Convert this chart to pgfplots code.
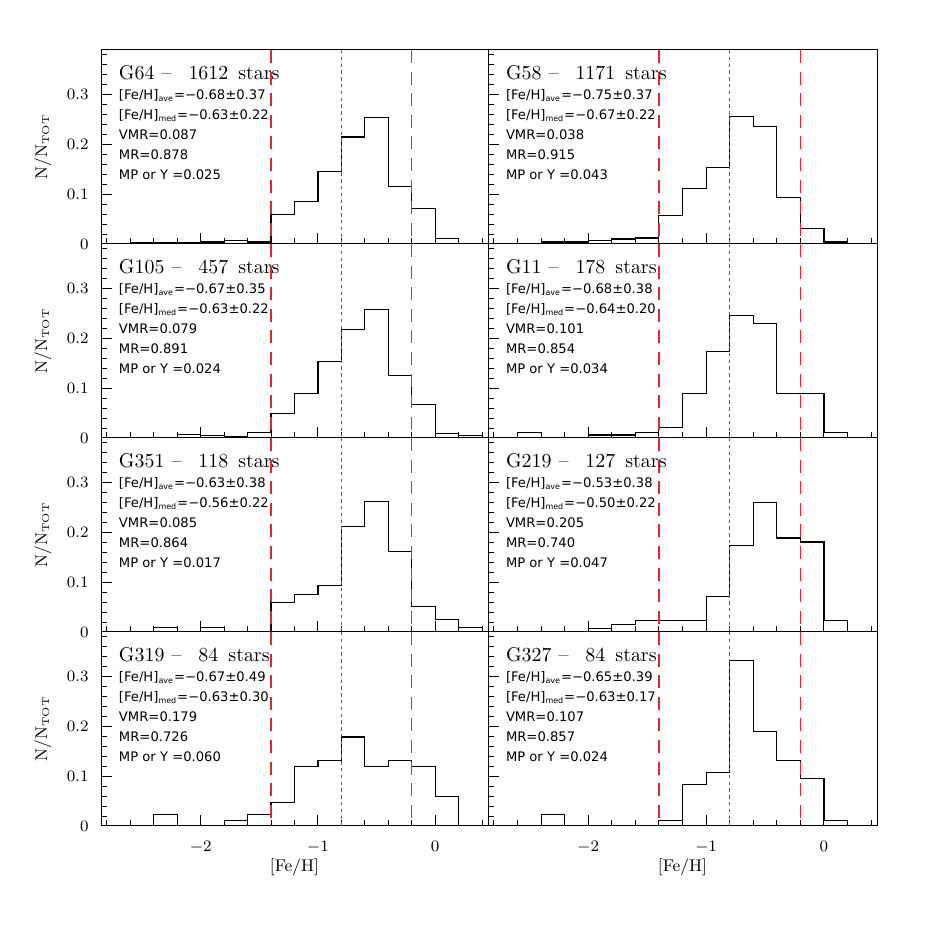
\documentclass[border=0pt]{standalone}
\usepackage{fontspec}
\usepackage{pgfplots}
\pgfplotsset{compat=1.18}
\newfontfamily\infofam{DejaVu Sans}
\definecolor{vred}{RGB}{235,35,45}
\newcommand{\titlefont}{\fontsize{10}{12}\selectfont}
\newcommand{\infofont}{\infofam\fontsize{6.6}{8}\selectfont}
\newcommand{\sub}[1]{\textsubscript{\fontsize{4}{5}\selectfont #1}}
\newcommand{\subl}[1]{\textsubscript{\fontsize{5}{6}\selectfont #1}}
\pgfplotsset{
  panel/.style={
    scale only axis, anchor=south west,
    width=193.5bp, height=97bp,
    xmin=-2.85, xmax=0.45, ymin=0, ymax=0.39,
    xtick={-2,-1,0},
    minor xtick={-2.8,-2.6,-2.4,-2.2,-1.8,-1.6,-1.4,-1.2,-0.8,-0.6,-0.4,-0.2,0.2,0.4},
    ytick={0,0.1,0.2,0.3},
    minor ytick={0.02,0.04,0.06,0.08,0.12,0.14,0.16,0.18,0.22,0.24,0.26,0.28,0.32,0.34,0.36,0.38},
    xtick pos=bottom, ytick pos=left,
    tick align=inside,
    major tick length=5.5bp, minor tick length=2.75bp,
    tick style={black, line width=0.5bp},
    minor tick style={black, line width=0.5bp},
    axis line style={line width=0.5bp},
    tick label style={font=\fontsize{8.5}{10}\selectfont},
    xticklabel style={yshift=-4bp},
    yticklabel style={xshift=-2.7bp},
    label style={font=\fontsize{8.5}{10}\selectfont},
    xlabel style={at={(axis description cs:0.5,0)}, anchor=center, yshift=-20.5bp},
    ylabel style={at={(axis description cs:-0.15,0.5)}, anchor=center},
  },
  hist/.style={const plot, black, line width=0.55bp, mark=none},
  dline/.style={solid, draw=vred, line width=0.7bp, dash pattern=on 6.5bp off 4.3bp, mark=none},
  dotline/.style={solid, draw=vred, line width=0.7bp, dash pattern=on 1.7bp off 1.7bp, mark=none},
}
\newcommand{\vlines}{%
  \addplot[dline] coordinates {(-0.2,0.39) (-0.2,0)};
  \addplot[dotline] coordinates {(-0.8,0.39) (-0.8,0)};
  \addplot[dline] coordinates {(-1.4,0.39) (-1.4,0)};
}
\newcommand{\info}[6]{%
  \node[anchor=base west, inner sep=0, xshift=8.8bp, yshift=-15bp, font=\titlefont] at (rel axis cs:0,1) {#1};
  \node[anchor=base west, inner sep=0, xshift=8.8bp, yshift=-24.75bp, font=\infofont] at (rel axis cs:0,1) {[Fe/H]\sub{ave}=#2};
  \node[anchor=base west, inner sep=0, xshift=8.8bp, yshift=-34.75bp, font=\infofont] at (rel axis cs:0,1) {[Fe/H]\sub{med}=#3};
  \node[anchor=base west, inner sep=0, xshift=8.8bp, yshift=-44.75bp, font=\infofont] at (rel axis cs:0,1) {VMR=#4};
  \node[anchor=base west, inner sep=0, xshift=8.8bp, yshift=-54.75bp, font=\infofont] at (rel axis cs:0,1) {MR=#5};
  \node[anchor=base west, inner sep=0, xshift=8.8bp, yshift=-64.75bp, font=\infofont] at (rel axis cs:0,1) {MP or Y =#6};
}
\newcommand{\ttl}[2]{#1\hspace{3.5bp}–\hspace{8.5bp}#2\hspace{5bp}stars}
\newcommand{\ylab}{N/N\subl{TOT}}
\begin{document}
\begin{tikzpicture}
\path[use as bounding box] (0,0) rectangle (463bp,463bp);

% Row 1 left: G64
\begin{axis}[panel, at={(50.5bp,341bp)}, xticklabels={}, ylabel={\ylab}]
\addplot[hist] coordinates {(-2.6,0) (-2.6,0.002) (-2.4,0.002) (-2.2,0.003) (-2.0,0.004) (-1.8,0.007) (-1.6,0.004) (-1.4,0.060) (-1.2,0.086) (-1.0,0.146) (-0.8,0.215) (-0.6,0.255) (-0.4,0.115) (-0.2,0.072) (0.0,0.011) (0.2,0.001) (0.4,0.001) (0.4,0)};
\vlines
\info{\ttl{G64}{1612}}{−0.68±0.37}{−0.63±0.22}{0.087}{0.878}{0.025}
\end{axis}

% Row 1 right: G58
\begin{axis}[panel, at={(244bp,341bp)}, width=194.5bp, xticklabels={}, yticklabels={}]
\addplot[hist] coordinates {(-2.6,0) (-2.6,0.001) (-2.4,0.004) (-2.2,0.004) (-2.0,0.007) (-1.8,0.010) (-1.6,0.012) (-1.4,0.058) (-1.2,0.111) (-1.0,0.154) (-0.8,0.256) (-0.6,0.237) (-0.4,0.094) (-0.2,0.032) (0.0,0.004) (0.2,0) (0.4,0) (0.4,0)};
\vlines
\info{\ttl{G58}{1171}}{−0.75±0.37}{−0.67±0.22}{0.038}{0.915}{0.043}
\end{axis}

% Row 2 left: G105
\begin{axis}[panel, at={(50.5bp,244bp)}, xticklabels={}, ylabel={\ylab}]
\addplot[hist] coordinates {(-2.6,0) (-2.6,0) (-2.4,0) (-2.2,0.007) (-2.0,0.005) (-1.8,0.003) (-1.6,0.011) (-1.4,0.050) (-1.2,0.089) (-1.0,0.154) (-0.8,0.219) (-0.6,0.258) (-0.4,0.125) (-0.2,0.068) (0.0,0.009) (0.2,0.005) (0.4,0.005) (0.4,0)};
\vlines
\info{\ttl{G105}{457}}{−0.67±0.35}{−0.63±0.22}{0.079}{0.891}{0.024}
\end{axis}

% Row 2 right: G11
\begin{axis}[panel, at={(244bp,244bp)}, width=194.5bp, xticklabels={}, yticklabels={}]
\addplot[hist] coordinates {(-2.6,0) (-2.6,0.011) (-2.4,0) (-2.2,0) (-2.0,0.006) (-1.8,0.006) (-1.6,0.011) (-1.4,0.022) (-1.2,0.090) (-1.0,0.174) (-0.8,0.247) (-0.6,0.230) (-0.4,0.090) (-0.2,0.090) (0.0,0.011) (0.2,0) (0.4,0) (0.4,0)};
\vlines
\info{\ttl{G11}{178}}{−0.68±0.38}{−0.64±0.20}{0.101}{0.854}{0.034}
\end{axis}

% Row 3 left: G351
\begin{axis}[panel, at={(50.5bp,147bp)}, xticklabels={}, ylabel={\ylab}]
\addplot[hist] coordinates {(-2.6,0) (-2.6,0) (-2.4,0.0085) (-2.2,0) (-2.0,0.0085) (-1.8,0) (-1.6,0) (-1.4,0.059) (-1.2,0.076) (-1.0,0.093) (-0.8,0.212) (-0.6,0.263) (-0.4,0.161) (-0.2,0.051) (0.0,0.025) (0.2,0.0085) (0.4,0.0085) (0.4,0)};
\vlines
\info{\ttl{G351}{118}}{−0.63±0.38}{−0.56±0.22}{0.085}{0.864}{0.017}
\end{axis}

% Row 3 right: G219
\begin{axis}[panel, at={(244bp,147bp)}, width=194.5bp, xticklabels={}, yticklabels={}]
\addplot[hist] coordinates {(-2.6,0) (-2.6,0) (-2.4,0) (-2.2,0) (-2.0,0.0079) (-1.8,0.0157) (-1.6,0.0236) (-1.4,0.0236) (-1.2,0.0236) (-1.0,0.0709) (-0.8,0.173) (-0.6,0.260) (-0.4,0.189) (-0.2,0.181) (0.0,0.0236) (0.2,0) (0.4,0) (0.4,0)};
\vlines
\info{\ttl{G219}{127}}{−0.53±0.38}{−0.50±0.22}{0.205}{0.740}{0.047}
\end{axis}

% Row 4 left: G319
\begin{axis}[panel, at={(50.5bp,50bp)}, xlabel={[Fe/H]}, ylabel={\ylab}]
\addplot[hist] coordinates {(-2.6,0) (-2.6,0) (-2.4,0.0238) (-2.2,0) (-2.0,0) (-1.8,0.0119) (-1.6,0.0238) (-1.4,0.0476) (-1.2,0.119) (-1.0,0.131) (-0.8,0.179) (-0.6,0.119) (-0.4,0.131) (-0.2,0.119) (0.0,0.0595) (0.2,0) (0.4,0) (0.4,0)};
\vlines
\info{\ttl{G319}{84}}{−0.67±0.49}{−0.63±0.30}{0.179}{0.726}{0.060}
\end{axis}

% Row 4 right: G327
\begin{axis}[panel, at={(244bp,50bp)}, width=194.5bp, yticklabels={}, xlabel={[Fe/H]}]
\addplot[hist] coordinates {(-2.6,0) (-2.6,0) (-2.4,0.0238) (-2.2,0) (-2.0,0) (-1.8,0) (-1.6,0) (-1.4,0.0119) (-1.2,0.083) (-1.0,0.107) (-0.8,0.333) (-0.6,0.190) (-0.4,0.131) (-0.2,0.095) (0.0,0.0119) (0.2,0) (0.4,0) (0.4,0)};
\vlines
\info{\ttl{G327}{84}}{−0.65±0.39}{−0.63±0.17}{0.107}{0.857}{0.024}
\end{axis}
\end{tikzpicture}
\end{document}
